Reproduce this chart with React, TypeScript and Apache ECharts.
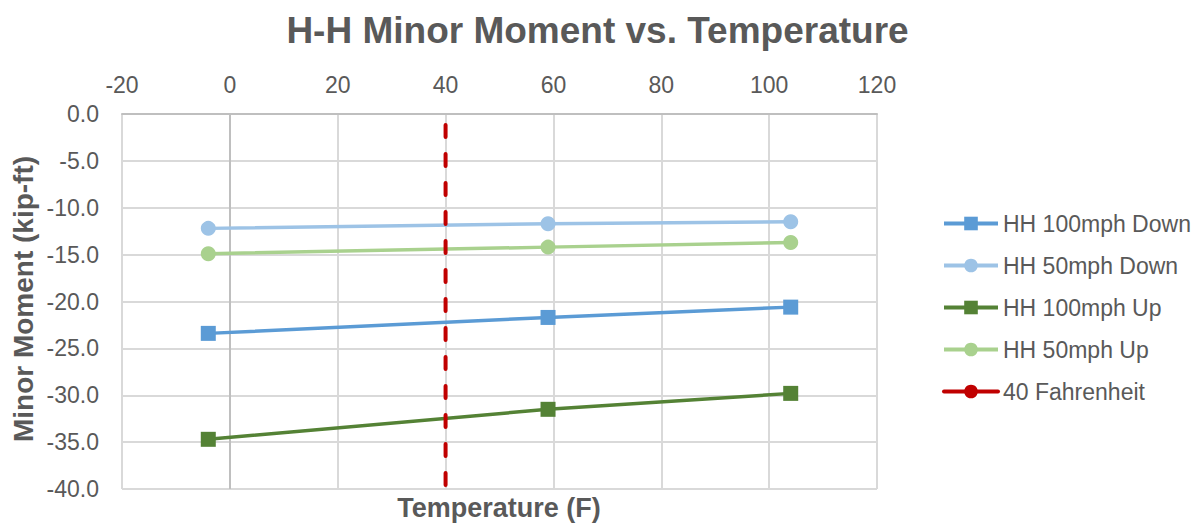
import React, { useEffect, useRef } from "react";
import * as echarts from "echarts";

const temps = [-4, 59, 104];
const down100 = [-23.4, -21.7, -20.6];
const down50 = [-12.2, -11.7, -11.5];
const up100 = [-34.7, -31.5, -29.8];
const up50 = [-14.9, -14.2, -13.7];
const refTemp = [40, 40];
const refVals = [0, -40];

const seriesNames = ["HH 100mph Down", "HH 50mph Down", "HH 100mph Up", "HH 50mph Up", "40 Fahrenheit"];
const colors = ["#5b9bd5", "#9dc3e6", "#548235", "#a9d18e", "#c00000"];

const FONT = "'Liberation Sans', Arial, sans-serif";
const TEXT = "#595959";

const zip = (xs: number[], ys: number[]) => xs.map((x, i) => [x, ys[i]]);

export default function App() {
  const ref = useRef<HTMLDivElement>(null);
  useEffect(() => {
    document.body.style.margin = "0";
    const chart = echarts.init(ref.current!, null, { renderer: "svg" });
    const mk = (name: string, data: number[][], color: string, symbol: string, size: number) => ({
      name,
      type: "line",
      data,
      symbol,
      symbolSize: size,
      color,
      lineStyle: { color, width: 3.5 },
      itemStyle: { color },
      z: 3,
    });
    const gridColors = ["#d9d9d9", "#bfbfbf", "#d9d9d9", "#d9d9d9", "#d9d9d9", "#d9d9d9", "#d9d9d9", "#d9d9d9"];
    chart.setOption({
      animation: false,
      textStyle: { fontFamily: FONT },
      title: {
        text: "H-H Minor Moment vs. Temperature",
        left: "center",
        top: 7,
        textStyle: { fontFamily: FONT, fontSize: 37, fontWeight: "bold", color: TEXT },
      },
      grid: { left: 122, right: 318, top: 114, bottom: 34, containLabel: false },
      xAxis: {
        type: "value",
        position: "top",
        min: -20,
        max: 120,
        interval: 20,
        axisLine: { show: true, onZero: false, lineStyle: { color: "#bfbfbf", width: 2 } },
        axisTick: { show: false },
        axisLabel: { color: TEXT, fontSize: 23, fontFamily: FONT, margin: 18 },
        splitLine: { show: true, lineStyle: { color: gridColors, width: 2 } },
      },
      yAxis: {
        type: "value",
        min: -40,
        max: 0,
        interval: 5,
        axisLine: { show: false },
        axisTick: { show: false },
        axisLabel: {
          color: TEXT,
          fontSize: 23,
          fontFamily: FONT,
          margin: 23,
          formatter: (v: number) => v.toFixed(1),
        },
        splitLine: { show: true, lineStyle: { color: "#d9d9d9", width: 2 } },
      },
      legend: {
        orient: "vertical",
        left: 937,
        top: 207,
        itemWidth: 54,
        itemHeight: 17,
        itemGap: 19,
        lineStyle: { width: 4, type: "solid" },
        textStyle: { color: TEXT, fontSize: 23, fontFamily: FONT },
        data: seriesNames,
      },
      graphic: [
        {
          type: "text",
          x: 499,
          y: 508,
          style: {
            text: "Temperature (F)",
            fontSize: 27,
            fontWeight: "bold",
            fill: TEXT,
            fontFamily: FONT,
            align: "center",
            verticalAlign: "middle",
          },
        },
        {
          type: "text",
          x: 23,
          y: 299,
          rotation: Math.PI / 2,
          style: {
            text: "Minor Moment (kip-ft)",
            fontSize: 28,
            fontWeight: "bold",
            fill: TEXT,
            fontFamily: FONT,
            align: "center",
            verticalAlign: "middle",
          },
        },
      ],
      series: [
        mk(seriesNames[0], zip(temps, down100), colors[0], "rect", 15),
        mk(seriesNames[1], zip(temps, down50), colors[1], "circle", 15),
        mk(seriesNames[2], zip(temps, up100), colors[2], "rect", 15),
        mk(seriesNames[3], zip(temps, up50), colors[3], "circle", 15),
        {
          name: seriesNames[4],
          type: "line",
          data: zip(refTemp, refVals),
          symbol: "circle",
          symbolSize: 15,
          showSymbol: false,
          color: colors[4],
          itemStyle: { color: colors[4] },
          lineStyle: { color: colors[4], width: 4, type: [12, 17], dashOffset: 18, cap: "round" },
          z: 4,
        },
      ],
    });
    return () => chart.dispose();
  }, []);
  return <div ref={ref} style={{ width: 1195, height: 523 }} />;
}
